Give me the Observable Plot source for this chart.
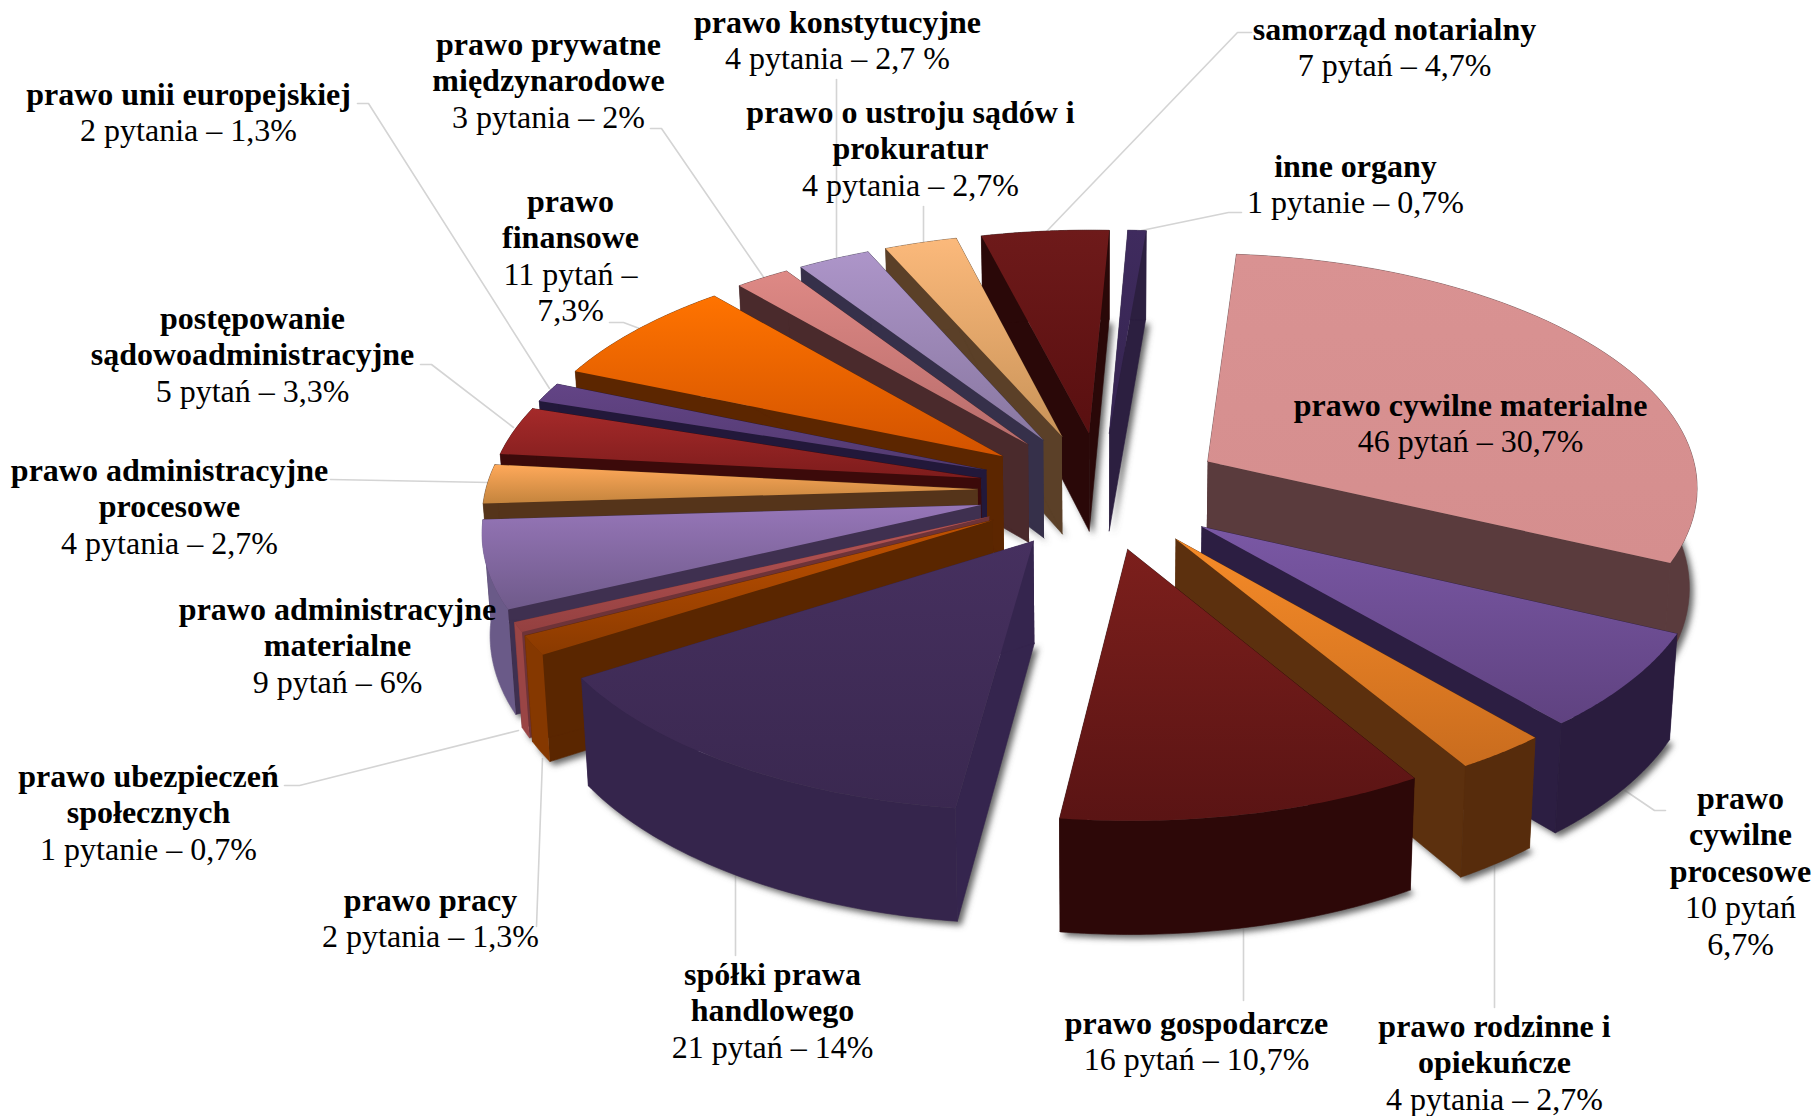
<!DOCTYPE html>
<html lang="pl">
<head>
<meta charset="utf-8">
<style>html,body{margin:0;padding:0;background:#fff}</style>
<script src="https://cdn.jsdelivr.net/npm/d3@7"></script>
<script src="https://cdn.jsdelivr.net/npm/@observablehq/plot@0.6"></script>
</head>
<body>
<div id="chart"></div>
<script>
// ---- data, clockwise from the top
const sliceNames = ["inne organy","prawo cywilne materialne","prawo cywilne procesowe","prawo rodzinne i opiekuńcze","prawo gospodarcze","spółki prawa handlowego","prawo pracy","prawo ubezpieczeń społecznych","prawo administracyjne materialne","prawo administracyjne procesowe","postępowanie sądowoadministracyjne","prawo unii europejskiej","prawo finansowe","prawo prywatne międzynarodowe","prawo konstytucyjne","prawo o ustroju sądów i prokuratur","samorząd notarialny"];
const sliceValues = [1,46,10,4,16,21,2,1,9,4,5,2,11,3,4,4,7];

// ---- styles
const topLight = ["#3f2b5e","#d99292","#7a58a5","#f68b28","#7c1f1c","#46305f","#c25200","#b85656","#9676b8","#ffa95a","#a52a2a","#634486","#ff7300","#de8985","#ad95c9","#fbb97b","#6e1a1a"];
const topDark  = ["#352450","#d58e8e","#5f4280","#c96c1e","#5a1414","#3a2850","#8a3a00","#944040","#6f5a8a","#c4843d","#7e1c1c","#523a70","#d25300","#b86c6b","#8877a0","#c99358","#590f10"];
const sideColor= ["#2c1f40","#5a3b3d","#2c1e42","#5c300e","#2a0606","#35254e","#5a2600","#6e3338","#3f3050","#55341a","#3c0a0a","#22183a","#5c2600","#4a2a2c","#36304a","#5b4028","#2a0808"];
const rimColor = ["#2c1f40","#5a3b3d","#2a1c3e","#572c0c","#2d0808","#35254c","#853800","#9a4545","#6a5a88","#55341a","#3c0a0a","#22183a","#5c2600","#4a2a2c","#36304a","#5b4028","#2a0808"];

// ---- labels: [bold lines], [plain lines]
const labelBold = [["inne organy"],["prawo cywilne materialne"],["prawo","cywilne","procesowe"],["prawo rodzinne i","opiekuńcze"],["prawo gospodarcze"],["spółki prawa","handlowego"],["prawo pracy"],["prawo ubezpieczeń","społecznych"],["prawo administracyjne","materialne"],["prawo administracyjne","procesowe"],["postępowanie","sądowoadministracyjne"],["prawo unii europejskiej"],["prawo","finansowe"],["prawo prywatne","międzynarodowe"],["prawo konstytucyjne"],["prawo o ustroju sądów i","prokuratur"],["samorząd notarialny"]];
const labelPlain = [["1 pytanie – 0,7%"],["46 pytań – 30,7%"],["10 pytań","6,7%"],["4 pytania – 2,7%"],["16 pytań – 10,7%"],["21 pytań – 14%"],["2 pytania – 1,3%"],["1 pytanie – 0,7%"],["9 pytań – 6%"],["4 pytania – 2,7%"],["5 pytań – 3,3%"],["2 pytania – 1,3%"],["11 pytań –","7,3%"],["3 pytania – 2%"],["4 pytania – 2,7 %"],["4 pytania – 2,7%"],["7 pytań – 4,7%"]];

// ---- layout of the labels: centre x, first line y
const labelX = [1355,1470,1740,1494,1196,772,430,148,337,169,252,188,570,548,837,910,1394];
const labelY = [166,405,798,1026,1023,974,900,776,609,470,318,94,201,44,22,112,29];
const leaders = [
  [[1241,212],[1228,212],[1141,230]], null,
  [[1665,810],[1654,810],[1623,789]],
  [[1494,1007],[1494,861]],
  [[1243,1000],[1243,928]],
  [[735,955],[735,875]],
  [[536,926],[542,758]],
  [[284,785],[299,785],[518,730]],
  null,
  [[330,479],[489,482]],
  [[420,364],[431,364],[513,427]],
  [[357,103],[368,103],[549,388]],
  [[609,322],[623,322],[639,328]],
  [[650,128],[661,128],[764,278]],
  [[836,79],[836,257]],
  [[923,206],[923,241]],
  [[1251,32],[1237,32],[1046,231]]
];

// ---- geometry of the exploded perspective pie
const cx = 1101, cy = 490, tilt = 0.474, depth = 5116;
const explode = 124, radius = 492, thick = 100, startDeg = 2.5, bottomShrink = 0.987;
const total = d3.sum(sliceValues);

function project(X, Y, low) {
  const p = 1 / (1 - Y / depth), k = low ? bottomShrink : 1;
  return {x: cx + X * p * k, y: cy + Y * tilt * p + (low ? thick * p : 0)};
}
function at(mid, r, a, low) {
  return project(
    explode * Math.sin(mid) + r * Math.sin(a),
    -explode * Math.cos(mid) - r * Math.cos(a),
    low
  );
}
let acc = 0;
const slices = sliceValues.map((v, i) => {
  const a0 = (startDeg + acc / total * 360) * Math.PI / 180;
  acc += v;
  const a1 = (startDeg + acc / total * 360) * Math.PI / 180;
  const mid = (a0 + a1) / 2;
  const arc = d3.range(0, 61).map(j => a0 + (a1 - a0) * j / 60);
  const rimTop = arc.map(a => at(mid, radius, a, false));
  const rimLow = arc.map(a => at(mid, radius, a, true));
  const apexTop = at(mid, 0, a0, false), apexLow = at(mid, 0, a0, true);
  return {
    i, key: -Math.cos(mid),
    top: [apexTop, ...rimTop],
    floor: [apexLow, ...rimLow],
    rim: [...rimTop, ...rimLow.slice().reverse()],
    sideA: [apexTop, rimTop[0], rimLow[0], apexLow],
    sideB: [apexTop, rimTop[60], rimLow[60], apexLow]
  };
});
const ordered = slices.slice().sort((a, b) => a.key - b.key);

const defs = () => {
  const d = d3.create("svg:defs");
  topLight.forEach((c, i) => {
    const g = d.append("linearGradient").attr("id", "top" + i).attr("x1", 0).attr("x2", 0).attr("y1", 0).attr("y2", 1);
    g.append("stop").attr("offset", 0).attr("stop-color", c);
    g.append("stop").attr("offset", 1).attr("stop-color", topDark[i]);
  });
  const f = d.append("filter").attr("id", "soft").attr("x", "-10%").attr("y", "-10%").attr("width", "120%").attr("height", "120%");
  f.append("feGaussianBlur").attr("stdDeviation", 3);
  return d.node();
};

const polys = (pts, fill) => Plot.line(pts, {x: "x", y: "y", fill, stroke: fill.startsWith("url") ? "none" : fill, strokeWidth: 0.6});

const shadowRows = ordered.flatMap(s => s.floor.map(p => ({...p, z: "f" + s.i})));

const pieMarks = ordered.flatMap(s => [
  polys(s.sideA, sideColor[s.i]),
  polys(s.sideB, sideColor[s.i]),
  polys(s.rim, rimColor[s.i]),
  polys(s.top, `url(#top${s.i})`)
]);

const leaderRows = leaders.flatMap((l, i) => l ? l.map(([x, y]) => ({x, y, i})) : []);

const lineStep = 36.5;
const textRows = sliceNames.flatMap((n, i) => {
  const rows = [];
  let y = labelY[i];
  for (const t of labelBold[i]) { rows.push({t, x: labelX[i], y, w: "bold"}); y += lineStep; }
  for (const t of labelPlain[i]) { rows.push({t, x: labelX[i], y, w: "normal"}); y += lineStep; }
  return rows;
});
const textMark = w => Plot.text(textRows.filter(d => d.w === w), {
  x: "x", y: "y", text: "t", fontSize: 32, fontWeight: w, fontFamily: "Liberation Serif",
  textAnchor: "middle", lineAnchor: "middle", fill: "#000"
});

const chart = Plot.plot({
  width: 1816, height: 1116, margin: 0,
  x: {domain: [0, 1816], range: [0, 1816], axis: null},
  y: {domain: [0, 1116], range: [0, 1116], axis: null},
  style: {background: "#fff"},
  marks: [
    defs,
    Plot.line(leaderRows, {x: "x", y: "y", z: "i", stroke: "#d4d4d4", strokeWidth: 1.6}),
    Plot.line(shadowRows, {
      x: d => d.x + 4, y: d => d.y + 4, z: "z", fill: "#666", stroke: "none", fillOpacity: 1,
      render(index, scales, values, dims, ctx, next) {
        const g = next(index, scales, values, dims, ctx);
        g.setAttribute("filter", "url(#soft)");
        return g;
      }
    }),
    ...pieMarks,
    textMark("bold"),
    textMark("normal")
  ]
});
document.getElementById("chart").append(chart);
</script>
</body>
</html>
